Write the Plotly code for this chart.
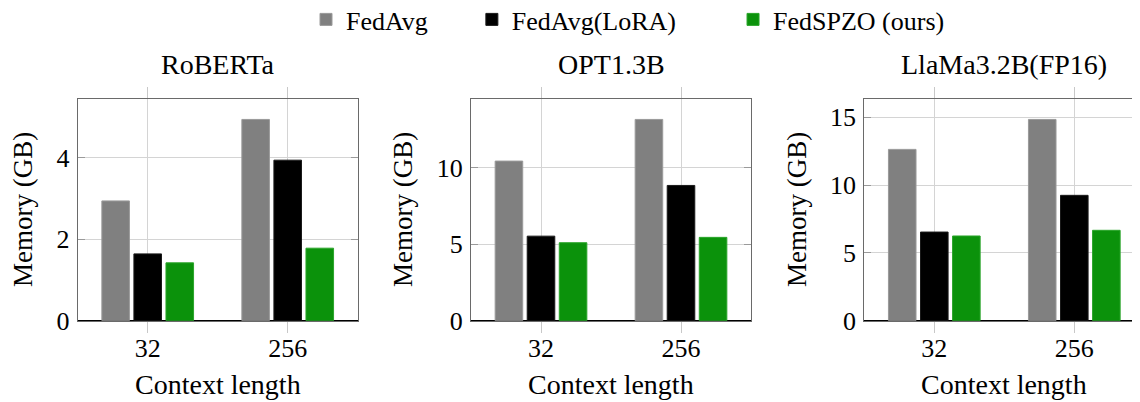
import plotly.graph_objects as go

contexts = ["32", "256"]
models = ["RoBERTa", "OPT1.3B", "LlaMa3.2B(FP16)"]
series_names = ["FedAvg", "FedAvg(LoRA)", "FedSPZO (ours)"]

roberta_fedavg = [2.94, 4.94]
roberta_lora = [1.64, 3.94]
roberta_spzo = [1.42, 1.78]

opt_fedavg = [10.42, 13.14]
opt_lora = [5.52, 8.83]
opt_spzo = [5.09, 5.44]

llama_fedavg = [12.64, 14.85]
llama_lora = [6.54, 9.25]
llama_spzo = [6.25, 6.67]

yticks_roberta = [0, 2, 4]
yticks_opt = [0, 5, 10]
yticks_llama = [0, 5, 10, 15]

panel_data = [
    [roberta_fedavg, roberta_lora, roberta_spzo],
    [opt_fedavg, opt_lora, opt_spzo],
    [llama_fedavg, llama_lora, llama_spzo],
]
panel_yticks = [yticks_roberta, yticks_opt, yticks_llama]

W, H = 1140, 402
OFF = 8  # page body margin offset
FONT = "Liberation Serif, Times New Roman, serif"
colors = ["#808080", "#000000", "#0b920b"]
edge_colors = ["#9a9a9a", "#1a1a1a", "#2aa52a"]
NB = "\u00a0"
legend_pad = [NB * 6, NB * 8, ""]

# pixel layout (screen coordinates, converted with OFF)
px_left = [77.7 - OFF, 471.0 - OFF, 864.3 - OFF]
px_width = 280.0
py_top, py_bot = 99.3 - OFF, 320.7 - OFF

fig = go.Figure()

for p in range(3):
    ax = "" if p == 0 else str(p + 1)
    for s in range(3):
        fig.add_trace(go.Bar(
            x=contexts, y=panel_data[p][s], name=series_names[s] + legend_pad[s],
            marker=dict(color=colors[s], line=dict(color=edge_colors[s], width=1)),
            xaxis="x" + ax, yaxis="y" + ax,
            showlegend=(p == 0), legendgroup=series_names[s],
        ))

layout = dict(
    template="none",
    width=W, height=H,
    margin=dict(l=0, r=0, t=0, b=0, autoexpand=False),
    paper_bgcolor="white", plot_bgcolor="white",
    barmode="group", bargap=0.313, bargroupgap=0.14,
    font=dict(family=FONT, size=26, color="black"),
    showlegend=True,
    legend=dict(orientation="h", x=(306 - OFF) / W, xanchor="left", y=1 + 12 / H, yanchor="top",
                font=dict(family=FONT, size=26, color="black"), itemwidth=30,
                bgcolor="rgba(0,0,0,0)", borderwidth=0, traceorder="normal"),
)

annotations = []
for p in range(3):
    ax = "" if p == 0 else str(p + 1)
    x0 = px_left[p] / W
    x1 = min((px_left[p] + px_width) / W, 1.0)
    visible_w = min(px_width, W - px_left[p])
    xmax = -0.5 + 2.0 * visible_w / px_width
    ymax = max(max(d) for d in panel_data[p]) * 1.1
    layout["xaxis" + ax] = dict(
        domain=[x0, x1], anchor="y" + ax, type="category", automargin=False,
        range=[-0.5, xmax], showgrid=True, gridcolor="#d4d4d4", gridwidth=1,
        ticks="outside", ticklen=11, tickcolor="#c8c8c8", tickwidth=1,
        showline=True, linecolor="#6a6a6a", linewidth=1, mirror="ticks",
        tickfont=dict(family=FONT, size=26, color="black"), ticklabelstandoff=-7,
        zeroline=False, fixedrange=True,
    )
    layout["yaxis" + ax] = dict(
        domain=[(H - py_bot) / H, (H - py_top) / H], anchor="x" + ax, automargin=False,
        range=[0, ymax], tickvals=panel_yticks[p],
        showgrid=True, gridcolor="#d4d4d4", gridwidth=1,
        ticks="inside", ticklen=7, tickcolor="#9a9a9a", tickwidth=1,
        showline=True, linecolor="#6a6a6a", linewidth=1, mirror="ticks",
        zeroline=True, zerolinecolor="#000000", zerolinewidth=1.2,
        tickfont=dict(family=FONT, size=26, color="black"), ticklabelstandoff=2,
        fixedrange=True,
    )
    cx = (px_left[p] + px_width / 2) / W
    annotations.append(dict(text=models[p], x=cx, y=(H - 57) / H,
                            xref="paper", yref="paper",
                            xanchor="center", yanchor="middle", showarrow=False,
                            font=dict(family=FONT, size=28, color="black")))
    annotations.append(dict(text="Context length", x=cx, y=(H - 376) / H, xref="paper", yref="paper",
                            xanchor="center", yanchor="middle", showarrow=False,
                            font=dict(family=FONT, size=28, color="black")))
ytitle_x = [23 - OFF, 403 - OFF, 797 - OFF]
for p in range(3):
    annotations.append(dict(text="Memory (GB)", x=ytitle_x[p] / W, y=(H - (210 - OFF)) / H,
                            xref="paper", yref="paper", xanchor="center", yanchor="middle",
                            textangle=-90, showarrow=False,
                            font=dict(family=FONT, size=27, color="black")))
layout["annotations"] = annotations

fig.update_layout(**layout)
fig.write_html("out.html")
